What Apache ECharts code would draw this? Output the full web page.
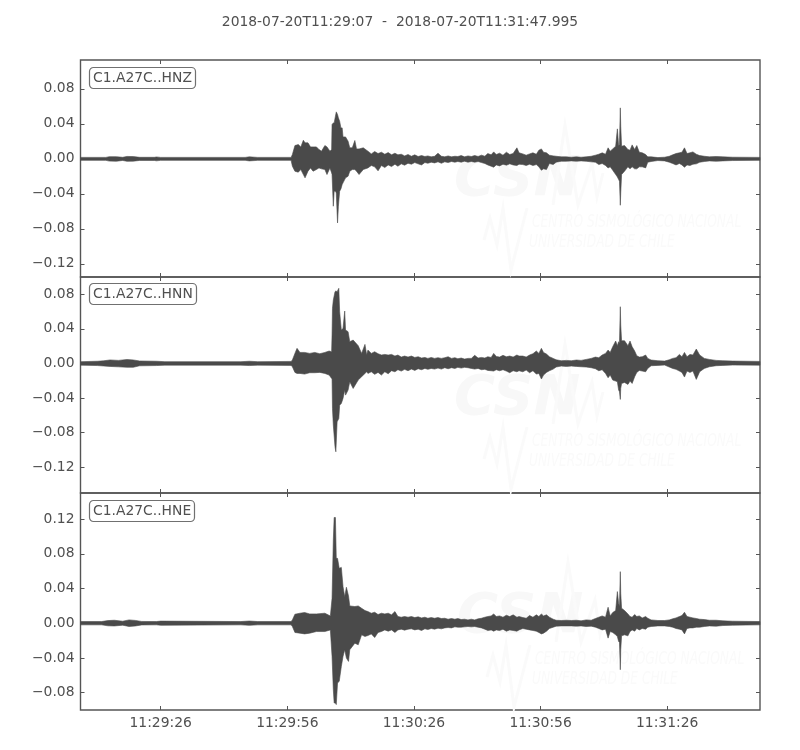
<!DOCTYPE html>
<html><head><meta charset="utf-8">
<style>html,body{margin:0;padding:0;background:#fff}#c{width:800px;height:750px}</style>
<script src="https://cdn.jsdelivr.net/npm/echarts@6/dist/echarts.min.js"></script>
</head><body><div id="c"></div>
<script>
// Title, channel names and axis ticks
const chartTitle = '2018-07-20T11:29:07  -  2018-07-20T11:31:47.995';
const channels = ['C1.A27C..HNZ', 'C1.A27C..HNN', 'C1.A27C..HNE'];
const xTickSeconds = [19, 49, 79, 109, 139];
const xTickLabels = ['11:29:26', '11:29:56', '11:30:26', '11:30:56', '11:31:26'];
const duration = 160.995;
const yTicksZ = [-0.12, -0.08, -0.04, 0, 0.04, 0.08];
const yTicksN = [-0.12, -0.08, -0.04, 0, 0.04, 0.08];
const yTicksE = [-0.08, -0.04, 0, 0.04, 0.08, 0.12];
const yRanges = [[-0.135, 0.113], [-0.15, 0.1], [-0.1, 0.15]];

// Envelope of each trace: seconds after start, top and bottom in thousandths.
// Times shared by all three traces after the main arrival
const tCodaEarly = [68.1,68.9,69.7,70.5,71.3,72.1,72.9,73.7,74.5,75.2,76,76.8,77.6,78.4,79.2,80,80.8,81.6,82.3,83.1,83.9,84.7,85.5,86.3,87.1,87.9,88.7,89.4,90.2,91,91.8,92.6,93.4,94.2,95,95.8,96.5,97.3,97.9,98.5,99.3,100.1,100.9,101.7,102.5,103.4,103.9];
const tCodaLate = [104.8,105.6,106.4,107.2,108,108.6,109.2,109.7,110.4,111.1,112,112.7,113.9,115.1,116.3,117.5,118.6,119.8,121,122,122.8,123.6,124.4,125,125.5,126.1,126.8,127.2,127.5,127.7,127.9,128,128.2,128.9,129.7,130.2,130.7,131.3,131.8,132.4,133.1,133.9,134.4,135.2,136.8,138.4,139.5,140.3,141.1,141.9,142.5,143.1,143.7,144.4,145.1,145.9,146.7,147.8,149,150.6,152.2,154.5,160.995];

const tHeadZ = [0,6,6.8,8.5,10,11,12.5,14,17.5,18,19,39,40,42,49.9,50.2,50.8,51.6,52.2,52.8,53.2,53.9,54.5,55.1,55.9,56.5,57.1,57.9,58.4,59.1,59.5,59.6,59.9,60.1,60.4,60.6,60.9,61.1,61.4,61.7,62,62.2,62.8,63.4,63.8,64.4,65,65.4,66,67];
const hiHeadZ = [1.7,1.7,2.5,2.5,1.8,2.8,2.6,1.8,1.8,2.2,1.7,1.7,2.3,1.7,1.7,5,15.2,16.4,13.7,21.3,18.3,18.3,13.7,13.7,13.7,10.7,8.8,15.2,13.7,8.8,10.7,39.2,41.1,41.1,48.8,53.7,50.7,46.9,43,35.4,35.4,25.1,25.1,20.2,12.6,12.6,21,11.4,11.4,12.6];
const loHeadZ = [-1.7,-1.7,-2.5,-2.7,-1.8,-2.8,-2.6,-1.8,-1.8,-2.2,-1.7,-1.7,-2.3,-1.7,-1.7,-8.4,-14.1,-15.2,-12.2,-17.9,-21.7,-14.1,-10.3,-14.1,-12.2,-10.3,-11.4,-12.2,-17.9,-10.3,-16,-17.9,-54.1,-37,-37,-38.9,-73.2,-54.1,-37,-34.3,-29.3,-27.4,-21.7,-19.8,-14.1,-12.2,-12.2,-14.1,-17.9,-12.2];
const hiEarlyZ = [8.8,5.7,8.4,6.1,7.6,5.3,7.2,4.6,6.5,4.6,5.3,3.4,5,3,4.6,2.7,3.8,2.7,3.4,2.3,3,6.5,3,2.3,3.4,2.3,3,2.7,3.8,2.3,3.4,2.7,3.8,2.7,4.2,3,6.1,4.6,8,5,6.5,4.2,7.6,5,6.1,12.6,6.9];
const loEarlyZ = [-10.3,-7.6,-9.1,-13.7,-7.6,-9.9,-6.9,-8.8,-6.1,-8.4,-5.7,-7.2,-5,-6.1,-4.2,-5.7,-6.9,-4.2,-5,-3.8,-4.6,-3.4,-5,-3.4,-4.2,-3,-3.8,-3,-3.8,-2.7,-3.8,-3,-3.8,-3,-4.2,-5.3,-6.9,-8.4,-9.5,-6.9,-8,-6.1,-7.2,-5.7,-6.9,-7.6,-6.1];
const hiLateZ = [5.7,4.2,5.7,6.9,5.3,9.9,11.4,7.6,6.9,4.2,3.4,3,2.3,2.3,1.9,2.3,1.9,2.3,3,4.2,5.3,6.9,5.3,12.6,8.8,11.4,14.5,34.3,15.2,16.4,58.3,37.3,14.5,15.2,10.7,9.9,16,10.7,15.2,7.6,6.9,5,2.3,2.3,1.5,1.9,3,4.6,6.1,6.9,7.6,12.6,6.1,6.9,8,5.3,3.8,3,2.3,2.7,2.3,1.9,1.7];
const loLateZ = [-6.5,-7.6,-6.1,-7.6,-6.5,-9.1,-13,-11.4,-12.2,-5.3,-6.5,-3.8,-2.7,-2.7,-2.3,-2.7,-2.3,-2.7,-3.4,-3.8,-6.5,-5.3,-7.6,-10.3,-9.1,-13,-17.9,-20.6,-23.6,-25.5,-53,-38.9,-17.9,-14.1,-9.1,-11.4,-9.1,-11.4,-11.4,-9.1,-9.1,-10.3,-3.8,-3,-1.9,-2.3,-3.8,-5.3,-6.9,-5.3,-6.9,-9.5,-6.9,-7.6,-6.1,-5.7,-3.8,-3,-2.3,-2.7,-2.3,-1.9,-1.7];

const tHeadN = [0,4,5.5,7,9,11,12.5,14,18,20,38,40,42,49.9,50.2,50.8,51.3,52,53.1,54.3,55.5,56.7,57.9,58.9,59.5,59.6,59.7,59.9,60.3,60.5,60.8,61.2,61.4,61.8,62.2,62.6,62.8,63.4,63.8,64.6,65.8,66.6,67.4,67.8];
const hiHeadN = [2,2.5,3,4,3.5,4.5,4,2.8,2.5,2,2,2.5,2,2.3,3.9,11.6,17.4,12.7,12.7,11.6,12.7,11.2,12.7,14.3,13.5,32.8,63.7,73.3,83,83.8,83,86.9,59.8,38.6,40.5,60.6,38.6,36.7,25.1,27,20.5,11.6,22,9.7];
const loHeadN = [-2,-2.5,-3,-3.5,-4,-4.5,-4.5,-2.8,-2.5,-2,-2,-2.5,-2,-2.3,-3.9,-10.4,-11.6,-11.6,-12.4,-10.8,-10.8,-10.4,-11.6,-13.5,-17.4,-17.4,-52.1,-71.4,-96.5,-102.3,-67.6,-63.7,-48.3,-46.3,-40.5,-30.9,-36.7,-30.9,-21.2,-29,-19.3,-15.4,-11.6,-9.7];
const hiEarlyN = [15.4,11.6,13.5,11.2,9.7,10.4,9.7,10.4,8.5,9.7,7.3,8.5,7.3,8.5,6.9,7.7,6.2,6.9,5.8,6.9,5.8,6.6,5.8,6.6,7.7,5.8,6.6,5.4,6.2,5,5.8,5.8,9.3,6.2,6.9,6.2,7.7,6.9,11.6,8.1,7.3,9.3,7.7,8.5,7.3,9.7,8.5];
const loEarlyN = [-11.6,-9.7,-12.7,-10.4,-13.5,-9.7,-12,-8.5,-9.7,-7.3,-8.9,-6.9,-8.5,-6.6,-8.1,-6.2,-7.3,-5.8,-6.9,-5.8,-6.6,-5.4,-6.6,-5,-6.2,-5,-5.8,-4.6,-5.4,-4.6,-5,-5.8,-6.6,-5.8,-7.3,-6.9,-8.1,-8.5,-8.9,-7.3,-8.5,-7.3,-8.9,-10.8,-8.5,-9.7,-8.5];
const hiLateN = [8.5,7.3,9.7,11.2,14.3,11.6,17.4,12.7,10.8,7.7,5.8,4.2,3.1,3.5,3.1,3.9,3.5,4.6,5.8,7.3,6.6,9.7,11.6,15.4,12.7,19.3,25.9,20.5,25.1,23.2,65.6,44.4,26.2,26.2,20.5,25.9,19.3,14.3,8.9,7.3,7.7,9.7,5.8,3.9,3.1,2.7,4.2,5.8,6.6,10.4,7.7,12.7,7.7,10.4,9.7,16.6,9.7,5.8,4.6,3.5,3.1,2.7,2.3];
const loLateN = [-9.7,-7.7,-10.8,-8.5,-12.4,-11.6,-18.1,-13.5,-10.4,-8.5,-6.6,-4.2,-3.1,-3.5,-3.1,-3.5,-3.9,-4.2,-5,-6.2,-8.5,-7.3,-11.6,-16.6,-13.5,-19.3,-20.5,-21.2,-30.9,-32.8,-41.7,-28.9,-23.2,-22,-24.3,-20.5,-23.2,-15.4,-10.4,-8.1,-8.9,-9.7,-5.8,-2.7,-2.3,-1.9,-4.2,-5.8,-6.9,-8.9,-10.4,-15.8,-8.9,-10.4,-8.9,-18.5,-9.7,-5.8,-3.9,-2.7,-2.3,-1.9,-2];

const tHeadE = [0,5,6.5,8,10,11.5,13,14.5,18,19,38,40,42,49.9,50.2,50.8,52,53.1,54.3,55.9,57.9,59.2,59.6,59.9,60.1,60.4,60.6,60.9,61.3,61.8,62.2,62.6,63,63.5,63.8,65,65.8,66.6,67.4];
const hiHeadE = [1.9,1.9,3,3.4,2.3,3.8,3.2,2,1.9,2.4,1.9,2.5,1.9,1.9,3.8,10.3,11.5,12.3,10.7,10.7,11.5,8.4,28.7,95.8,121.8,121.8,74.7,74.7,63.2,64.3,42.1,30.6,41.4,31.4,19.9,19.2,19.9,17.2,14.6];
const loHeadE = [-1.9,-1.9,-3,-3.2,-2.3,-3.8,-3.2,-2,-1.9,-2.4,-1.9,-2.5,-1.9,-1.9,-3.8,-10.7,-11.5,-12.3,-11.5,-9.6,-9.6,-7.7,-38.3,-76.6,-91.9,-91.9,-93.8,-68.9,-67,-49.8,-38.3,-30.6,-40.2,-44,-30.6,-23,-24.9,-13.4,-15.3];
const hiEarlyE = [13.4,11.5,12.6,10,11.5,10.7,11.5,9.6,13.4,7.7,6.9,7.7,6.9,7.7,6.5,7.3,6.1,6.9,5.7,6.5,5.7,6.5,5.4,5.7,4.6,5.4,4.6,5.4,4.2,4.6,3.8,4.6,3.8,5,5.7,6.9,7.7,8.4,10.7,7.7,8.4,6.9,9.2,7.7,9.6,6.9,7.7];
const loEarlyE = [-14.2,-12.3,-16.5,-10.7,-9.6,-7.7,-9.2,-7.7,-10.7,-7.7,-6.9,-8,-6.9,-6.5,-7.7,-6.9,-8.4,-6.5,-7.3,-6.1,-6.9,-5.7,-6.5,-5.4,-5,-5.4,-4.2,-4.6,-4.6,-4.2,-3.8,-4.2,-3.8,-4.6,-5.4,-6.9,-8.4,-7.7,-9.2,-7.7,-8.4,-6.9,-9.2,-7.7,-8.4,-9.2,-7.7];
const hiLateE = [6.5,5.7,8.8,6.9,9.6,7.7,10.7,8.4,9.6,6.9,4.6,3.4,3.1,3.4,3.1,3.4,2.7,3.8,3.4,5.4,6.9,8.4,6.9,18.4,8.4,12.3,14.6,36.4,23,19.2,59.4,34.5,17.2,14.6,10.7,7.7,6.9,10,7.7,8.4,6.1,7.7,5.7,3.8,3.1,3.1,3.8,5,6.1,7.7,8.8,12.6,7.7,6.9,6.1,5.4,4.6,4.2,3.4,3.4,2.7,2.3,1.9];
const loLateE = [-6.1,-6.9,-7.7,-8.4,-9.2,-10.7,-12.3,-11.5,-9.2,-6.1,-4.6,-3.4,-3.1,-3.1,-3.1,-3.4,-3.1,-3.8,-3.4,-4.6,-6.1,-7.7,-6.9,-17.2,-9.6,-10.7,-13.4,-15.3,-21.1,-22.2,-53.6,-30.6,-14.6,-13.4,-14.6,-9.6,-7.7,-9.2,-6.1,-7.7,-6.1,-6.9,-4.6,-3.8,-3.1,-3.1,-3.8,-4.6,-6.1,-6.9,-7.7,-12.3,-6.1,-5.4,-5.4,-4.6,-4.6,-3.8,-3.1,-3.4,-2.7,-2.3,-1.9];

const traces = [
  [tHeadZ.concat(tCodaEarly, tCodaLate), hiHeadZ.concat(hiEarlyZ, hiLateZ), loHeadZ.concat(loEarlyZ, loLateZ)],
  [tHeadN.concat(tCodaEarly, tCodaLate), hiHeadN.concat(hiEarlyN, hiLateN), loHeadN.concat(loEarlyN, loLateN)],
  [tHeadE.concat(tCodaEarly, tCodaLate), hiHeadE.concat(hiEarlyE, hiLateE), loHeadE.concat(loEarlyE, loLateE)]
];
const yTicks = [yTicksZ, yTicksN, yTicksE];
const watermarkLines = ['CSN', 'CENTRO SISMOLÓGICO NACIONAL', 'UNIVERSIDAD DE CHILE'];

const INK = '#4a4a4a', FRAME = '#555555', TEXT = '#505050', WM = '#fafafa';
const FONT = 13.89;
const panelTop = [60, 277, 493], panelH = [217, 216, 217];
const labelTop = [67, 283, 500];
const wmOffset = [[0, 0], [0, 219], [3, 437]];

const grids = [], xAxes = [], yAxes = [], series = [], titles = [], graphics = [];
titles.push({text: chartTitle, left: 'center', top: 10, textStyle: {fontFamily: 'DejaVu Sans', fontSize: FONT, fontWeight: 'normal', color: TEXT}});

function fmtY(v) { return (v < 0 ? '\u2212' : '') + Math.abs(v).toFixed(2); }
function fmtX(v) { const i = xTickSeconds.indexOf(v); return i < 0 ? '' : xTickLabels[i]; }

channels.forEach(function (ch, p) {
  grids.push({left: 80.5, width: 679.5, top: panelTop[p], height: panelH[p], show: true, borderColor: FRAME, borderWidth: 1.4, backgroundColor: 'transparent', containLabel: false});
  ['bottom', 'top'].forEach(function (pos, k) {
    xAxes.push({type: 'value', gridIndex: p, position: pos, min: 0, max: duration, splitLine: {show: false}, axisLine: {show: false, onZero: false},
      axisTick: {show: true, inside: true, length: 4, customValues: xTickSeconds, lineStyle: {color: FRAME, width: 1}},
      axisLabel: {show: p === 2 && k === 0, customValues: xTickSeconds, formatter: fmtX, margin: 6, color: TEXT, fontFamily: 'DejaVu Sans', fontSize: FONT}});
  });
  ['left', 'right'].forEach(function (pos, k) {
    yAxes.push({type: 'value', gridIndex: p, position: pos, min: yRanges[p][0], max: yRanges[p][1], splitLine: {show: false}, axisLine: {show: false, onZero: false},
      axisTick: {show: true, inside: true, length: 4, customValues: yTicks[p], lineStyle: {color: FRAME, width: 1}},
      axisLabel: {show: k === 0, customValues: yTicks[p], formatter: fmtY, margin: 6, padding: [2, 0, 0, 0], color: TEXT, fontFamily: 'DejaVu Sans', fontSize: FONT}});
  });
  const tr = traces[p];
  const data = tr[0].map(function (t, i) { return [t, tr[1][i] / 1000, tr[2][i] / 1000]; });
  series.push({type: 'custom', name: ch, xAxisIndex: p * 2, yAxisIndex: p * 2, clip: true, silent: true, z: 5, data: data,
    encode: {x: 0, y: [1, 2]},
    renderItem: function (params, api) {
      if (params.dataIndex !== 0) return null;
      const top = data.map(function (d) { return api.coord([d[0], d[1]]); });
      const bottom = data.map(function (d) { return api.coord([d[0], d[2]]); }).reverse();
      return {type: 'polygon', shape: {points: top.concat(bottom)}, style: {fill: INK, stroke: INK, lineWidth: 0.6}};
    }});
  titles.push({text: ch, left: 89, top: labelTop[p], padding: [4, 4, 4, 4], borderColor: '#707070', borderWidth: 1.2, borderRadius: 4, backgroundColor: '#fff',
    textStyle: {fontFamily: 'DejaVu Sans', fontSize: FONT, fontWeight: 'normal', color: TEXT}});
  const dx = wmOffset[p][0], dy = wmOffset[p][1];
  graphics.push({type: 'text', z: 1, x: 454 + dx, y: 152 + dy, style: {text: watermarkLines[0], fill: '#f8f8f8', font: 'italic bold 56px "DejaVu Sans"'}});
  graphics.push({type: 'text', z: 1, x: 532 + dx, y: 214 + dy, scaleX: 0.72, scaleY: 1, style: {text: watermarkLines[1], fill: WM, font: 'italic 17px "DejaVu Sans"'}});
  graphics.push({type: 'text', z: 1, x: 529 + dx, y: 234 + dy, scaleX: 0.72, scaleY: 1, style: {text: watermarkLines[2], fill: WM, font: 'italic 17px "DejaVu Sans"'}});
  graphics.push({type: 'polyline', z: 1, shape: {points: [[484, 240], [490, 218], [497, 245], [503, 208], [511, 270], [527, 208]].map(function (q) { return [q[0] + dx, q[1] + dy]; })}, style: {fill: 'none', stroke: WM, lineWidth: 3}});
  graphics.push({type: 'polyline', z: 1, shape: {points: [[553, 205], [565, 125], [578, 205], [592, 163], [597, 197], [603, 173]].map(function (q) { return [q[0] + dx, q[1] + dy]; })}, style: {fill: 'none', stroke: WM, lineWidth: 3}});
});

const chart = echarts.init(document.getElementById('c'), null, {renderer: 'canvas', width: 800, height: 750});
chart.setOption({animation: false, backgroundColor: '#fff', title: titles, grid: grids, xAxis: xAxes, yAxis: yAxes, series: series, graphic: {elements: graphics}, tooltip: {show: false}});
</script></body></html>
